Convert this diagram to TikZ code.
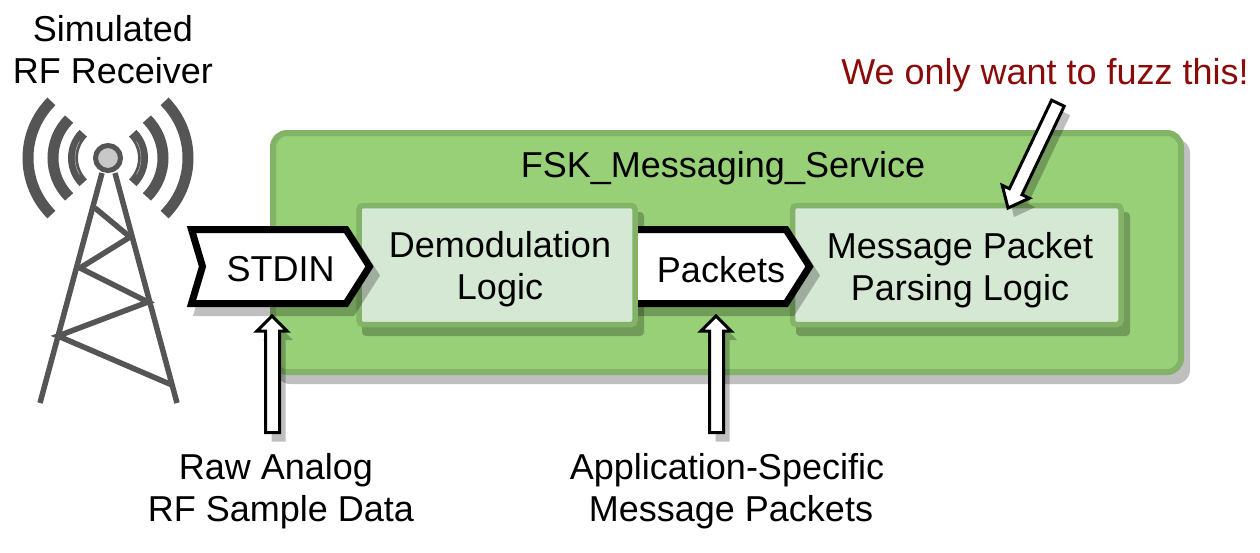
\documentclass[tikz,border=0pt]{standalone}
\usepackage{fontspec}
\setmainfont{Liberation Sans}
\definecolor{gfill}{HTML}{97D077}
\definecolor{gline}{HTML}{82B366}
\definecolor{lfill}{HTML}{D5E8D4}
\definecolor{tower}{HTML}{555555}
\definecolor{towerlamp}{HTML}{C8C8C8}
\definecolor{note}{HTML}{8B0A0A}
\tikzset{
  lbl/.style={font=\fontsize{36}{42}\selectfont, text=black, inner sep=0pt, align=center},
  softshadow/.style={fill=black, fill opacity=.25, draw=none, shift={(6,9)}},
  outerbox/.style={draw=gline, line width=6, fill=gfill, rounded corners=14},
  innerbox/.style={draw=gline, line width=5.5, fill=lfill, rounded corners=4},
  tagshape/.style={draw=black, line width=7, fill=white, miter limit=10},
  blockarrow/.style={draw=black, line width=3, fill=white, miter limit=10},
  towerline/.style={draw=tower, line width=5.5},
  wave/.style={draw=tower, line cap=butt}
}
\begin{document}
\begin{tikzpicture}[x=1pt,y=-1pt]
\useasboundingbox (0,0) rectangle (1260,552);
% named anchors
\coordinate (lamp) at (108,158);
% ---- main box
\fill[softshadow, rounded corners=14] (270,130) rectangle (1184,375);
\path[outerbox] (273,133) rectangle (1181,372);
\node[lbl] (title) at (723,168) {FSK\_Messaging\_Service};
% ---- inner boxes
\fill[softshadow, rounded corners=4] (356,203) rectangle (638,327);
\path[innerbox] (359,205.5) rectangle (635,324.5);
\fill[softshadow, rounded corners=4] (790,203) rectangle (1124,327);
\path[innerbox] (792.5,205.5) rectangle (1121,324.5);
\node[lbl] (demod) at (500,269.5) {Demodulation\\Logic};
\node[lbl] (parse) at (960,270) {Message Packet\\Parsing Logic};
% ---- tags
\fill[softshadow] (187,226) -- (348,226) -- (374,266.5) -- (348,307) -- (187,307) -- (199,266.5) -- cycle;
\path[tagshape] (191.5,229.5) -- (346,229.5) -- (369.5,266.5) -- (346,303.5) -- (191.5,303.5) -- (202.5,266.5) -- cycle;
\node[lbl] (stdin) at (280.5,269) {STDIN};
\begin{scope}
\clip (638,200) rectangle (840,340);
\fill[softshadow] (630,226) -- (788,226) -- (814,266.5) -- (788,307) -- (630,307) -- cycle;
\path[tagshape] (620,229.5) -- (786,229.5) -- (809.5,266.5) -- (786,303.5) -- (620,303.5) -- cycle;
\end{scope}
\node[lbl] (packets) at (721,270) {Packets};
% ---- block arrows
\fill[softshadow] (272,316) -- (287,331) -- (279.5,331) -- (279.5,432.5) -- (265.5,432.5) -- (265.5,331) -- (257,331) -- cycle;
\path[blockarrow] (272,316) -- (287,331) -- (279.5,331) -- (279.5,432.5) -- (265.5,432.5) -- (265.5,331) -- (257,331) -- cycle;
\fill[softshadow] (716,316) -- (731,331) -- (723.5,331) -- (723.5,432.5) -- (709.5,432.5) -- (709.5,331) -- (701,331) -- cycle;
\path[blockarrow] (716,316) -- (731,331) -- (723.5,331) -- (723.5,432.5) -- (709.5,432.5) -- (709.5,331) -- (701,331) -- cycle;
\fill[softshadow] (1008,208) -- (1029.3,198.2) -- (1022,194.7) -- (1064.2,106.2) -- (1051.6,100.2) -- (1009.4,188.7) -- (1002.2,185.3) -- cycle;
\path[blockarrow] (1008,208) -- (1029.3,198.2) -- (1022,194.7) -- (1064.2,106.2) -- (1051.6,100.2) -- (1009.4,188.7) -- (1002.2,185.3) -- cycle;
% ---- labels
\node[lbl] (sim) at (113,50) {Simulated\\RF Receiver};
\node[lbl, text=note] (fuzz) at (1045,75) {We only want to fuzz this!};
\node[lbl] (raw) at (281,491.5) {Raw Analog\hspace*{10pt}\\RF Sample Data};
\node[lbl] (app) at (731,491.5) {Application-Specific\hspace*{8pt}\\Message Packets};
% ---- tower
\path[towerline] (40,403) -- (102,173) (177,403) -- (115,173);
\path[towerline] (95,208) -- (130,237) -- (80,268) -- (148,302) -- (58,336) -- (172,385);
\foreach \r/\w in {80/11, 55/11, 35/10}{
  \draw[wave, line width=\w] ([shift={(-45:\r)}]lamp) arc[start angle=-45, end angle=45, radius=\r];
  \draw[wave, line width=\w] ([shift={(135:\r)}]lamp) arc[start angle=135, end angle=225, radius=\r];
}
\draw[towerlamp, line width=.4] ([shift={(-30:33)}]lamp) arc[start angle=-30, end angle=30, radius=33];
\draw[towerlamp, line width=.4] ([shift={(150:33)}]lamp) arc[start angle=150, end angle=210, radius=33];
\draw[draw=tower, line width=5, fill=towerlamp] (lamp) circle[radius=12.5];
\end{tikzpicture}
\end{document}
